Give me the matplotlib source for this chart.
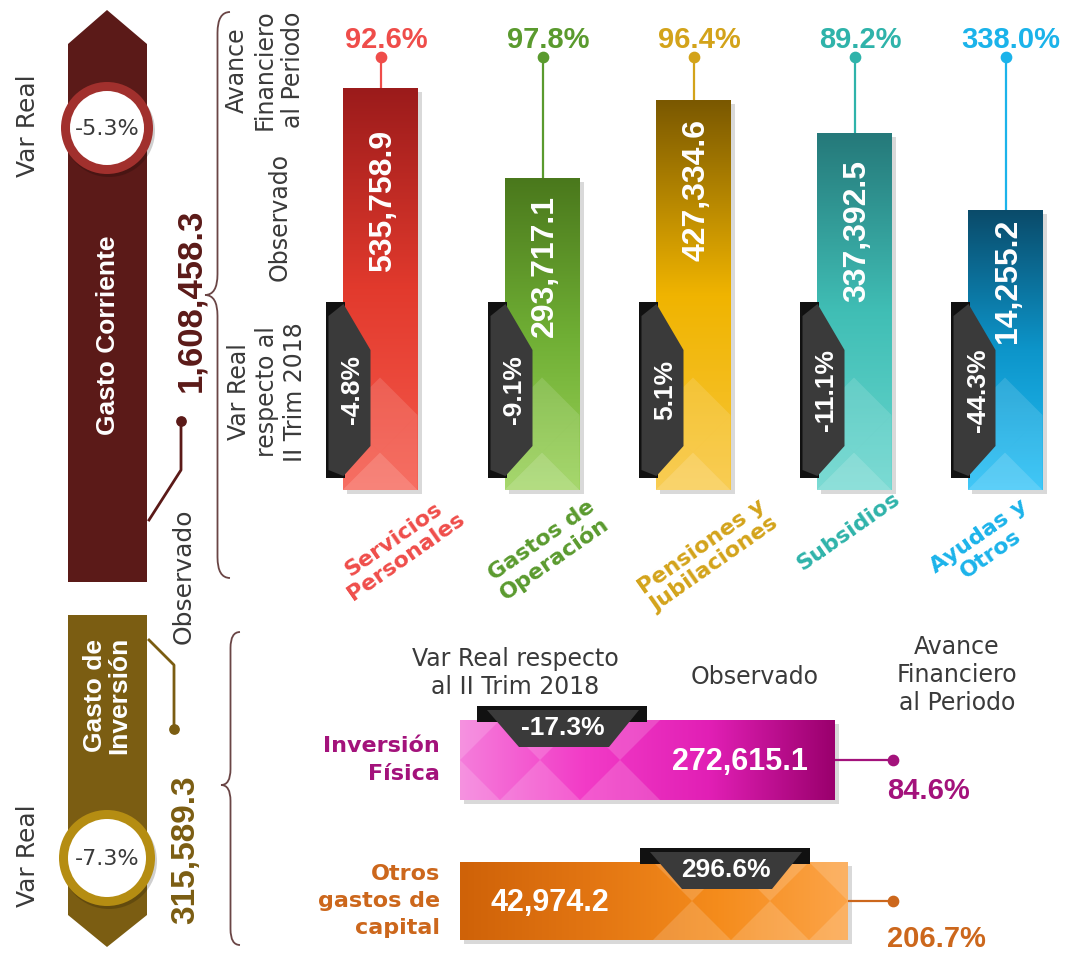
import numpy as np
import matplotlib
matplotlib.use('Agg')
import matplotlib.pyplot as plt
from matplotlib.patches import Polygon, Circle, Rectangle, PathPatch
from matplotlib.path import Path
from matplotlib.colors import LinearSegmentedColormap

# -- data ---------------------------------------------------------------
cur_categories = ['Servicios\nPersonales', 'Gastos de\nOperación',
                  'Pensiones y\nJubilaciones', 'Subsidios', 'Ayudas y\nOtros']
cur_observado = [535758.9, 293717.1, 427334.6, 337392.5, 14255.2]
cur_var_real = [-4.8, -9.1, 5.1, -11.1, -44.3]
cur_avance = [92.6, 97.8, 96.4, 89.2, 338.0]

inv_categories = ['Inversión\nFísica', 'Otros\ngastos de\ncapital']
inv_observado = [272615.1, 42974.2]
inv_var_real = [-17.3, 296.6]
inv_avance = [84.6, 206.7]

total_corriente = 1608458.3
total_inversion = 315589.3
var_corriente = -5.3
var_inversion = -7.3

# -- layout (pixel canvas, design lengths are not to scale) ---------------
W, H = 1065, 956
bar_x = [380, 542, 693, 854, 1005]
bar_len = [402, 312, 390, 357, 280]
val_cy = [201, 266, 190, 231, 281]
BAR_BASE = 490
BAR_W = 75
inv_y = [760, 901]
inv_len = [375, 388]
inv_h = [80, 78]
INV_LEFT = 460

# -- colours -------------------------------------------------------------
cur_text = ['#ef4d4a', '#5a9a2e', '#d3a31a', '#2fb3aa', '#1bb3ea']
cur_grad = [['#f65a4c', '#e23a2d', '#9b1b1b'],
            ['#9ad258', '#6fae34', '#4a781c'],
            ['#f8c63a', '#f0b400', '#7a5800'],
            ['#68d6ce', '#40beb5', '#25797a'],
            ['#25c0f7', '#0d95ca', '#0a4b6a']]
inv_text = ['#a3127b', '#cc671c']
inv_grad = [['#f57ddb', '#f23bc7', '#e11fb5', '#9a006d'],
            ['#cf6208', '#e27512', '#f58c1c', '#fca448']]
MAROON = '#5b1a18'
MAROON_RING = '#a1302d'
OLIVE = '#7b5d12'
OLIVE_RING = '#b58d12'
TAG_DARK = '#3a3a3a'
TXT = '#3a3a3a'
BOLD = 'Liberation Sans'
REG = 'DejaVu Sans'


def grad_fill(ax, patch, colors, extent, horizontal=False, z=3):
    cmap = LinearSegmentedColormap.from_list('g', colors)
    arr = np.linspace(0, 1, 256)
    arr = arr.reshape(1, -1) if horizontal else arr.reshape(-1, 1)
    im = ax.imshow(arr, cmap=cmap, extent=extent, origin='lower',
                   aspect='auto', zorder=z, interpolation='bicubic')
    im.set_clip_path(patch)


def brace(ax, x_tip, x_end, y0, y1, ym, color):
    xm = (x_tip + x_end) / 2
    r = (x_end - x_tip) / 1.2
    verts = [(x_end, y0), (xm, y0), (xm, y0 + r), (xm, ym - r),
             (xm, ym), (x_tip, ym), (xm, ym), (xm, ym + r),
             (xm, y1 - r), (xm, y1), (x_end, y1)]
    codes = [Path.MOVETO, Path.CURVE3, Path.CURVE3, Path.LINETO,
             Path.CURVE3, Path.CURVE3, Path.CURVE3, Path.CURVE3,
             Path.LINETO, Path.CURVE3, Path.CURVE3]
    ax.add_patch(PathPatch(Path(verts, codes), fc='none', ec=color, lw=1.3))


def pattern(ax, clip, pts_list, color, alpha):
    for pts in pts_list:
        p = Polygon(pts, closed=True, fc=color, ec='none', alpha=alpha, zorder=4)
        ax.add_patch(p)
        p.set_clip_path(clip)


fig = plt.figure(figsize=(W / 100, H / 100), dpi=100, facecolor='white')
ax = fig.add_axes([0, 0, 1, 1])
ax.set_xlim(0, W)
ax.set_ylim(H, 0)
ax.axis('off')

# ---- left banners -------------------------------------------------------
ax.add_patch(Polygon([(68, 44), (107, 10), (147, 44), (147, 582), (68, 582)],
                     fc=MAROON, ec='none', zorder=2))
ax.add_patch(Circle((109, 131), 46, fc='#00000030', ec='none', zorder=2.5))
ax.add_patch(Circle((107, 128), 46, fc=MAROON_RING, ec='none', zorder=3))
ax.add_patch(Circle((107, 128), 37, fc='white', ec='none', zorder=3.5))
ax.text(107, 129, f'{var_corriente:.1f}%', family=REG, fontsize=16, color=TXT,
        ha='center', va='center', zorder=4)
ax.text(28, 126, 'Var Real', family=REG, fontsize=18, color=TXT, rotation=90,
        ha='center', va='center')
ax.text(108, 335, 'Gasto Corriente', family=BOLD, fontweight='bold', fontsize=19,
        color='white', rotation=90, ha='center', va='center', zorder=4)
ax.text(191, 300, f'{total_corriente:,.1f}', family=BOLD, fontweight='bold',
        fontsize=25, color=MAROON, rotation=90, ha='center', va='center')
ax.plot([181, 181, 149], [421, 470, 520], color=MAROON, lw=2, zorder=3)
ax.scatter([181], [421], s=45, color=MAROON, zorder=4)
ax.text(184, 576, 'Observado', family=REG, fontsize=18, color=TXT, rotation=90,
        ha='center', va='center')

ax.add_patch(Polygon([(68, 615), (147, 615), (147, 915), (107, 947), (68, 915)],
                     fc=OLIVE, ec='none', zorder=2))
ax.add_patch(Circle((109, 861), 48, fc='#00000030', ec='none', zorder=2.5))
ax.add_patch(Circle((107, 858), 48, fc=OLIVE_RING, ec='none', zorder=3))
ax.add_patch(Circle((107, 858), 39, fc='white', ec='none', zorder=3.5))
ax.text(107, 859, f'{var_inversion:.1f}%', family=REG, fontsize=16, color=TXT,
        ha='center', va='center', zorder=4)
ax.text(28, 856, 'Var Real', family=REG, fontsize=18, color=TXT, rotation=90,
        ha='center', va='center')
ax.text(107, 695, 'Gasto de\nInversión', family=BOLD, fontweight='bold',
        fontsize=19, color='white', rotation=90, ha='center', va='center',
        linespacing=1.0, zorder=4)
ax.text(186, 850, f'{total_inversion:,.1f}', family=BOLD, fontweight='bold',
        fontsize=24, color=OLIVE, rotation=90, ha='center', va='center')
ax.plot([149, 174, 174], [640, 665, 729], color=OLIVE, lw=2, zorder=3)
ax.scatter([174], [729], s=45, color=OLIVE, zorder=4)

brace(ax, 205, 230, 12, 578, 295, '#6a4545')
brace(ax, 221, 240, 632, 945, 785, '#6a4545')

# ---- column headers (top) -----------------------------------------------
ax.text(265, 70, 'Avance\nFinanciero\nal Periodo', family=REG, fontsize=17,
        color=TXT, rotation=90, ha='center', va='center', linespacing=1.2)
ax.text(280, 217, 'Observado', family=REG, fontsize=17, color=TXT,
        rotation=90, ha='center', va='center')
ax.text(267, 392, 'Var Real\nrespecto al\nII Trim 2018', family=REG,
        fontsize=17, color=TXT, rotation=90, ha='center', va='center',
        linespacing=1.2)

# ---- top bars ------------------------------------------------------------
tops = [BAR_BASE - h for h in bar_len]
ax.bar([x + 4 for x in bar_x], bar_len, bottom=[t + 4 for t in tops],
       width=BAR_W, color='black', alpha=0.15, zorder=2)
bars = ax.bar(bar_x, bar_len, bottom=tops, width=BAR_W, zorder=3,
              color=[g[1] for g in cur_grad])
label_pos = [(400, 548), (548, 550), (708, 556), (848, 531), (985, 545)]
for i, b in enumerate(bars):
    x0, x1 = bar_x[i] - BAR_W / 2, bar_x[i] + BAR_W / 2
    xc, top, yb = bar_x[i], tops[i], BAR_BASE
    grad_fill(ax, b, cur_grad[i], (x0, x1, yb, top), z=3.1)
    hw = BAR_W / 2
    pattern(ax, b, [[(x0, yb), (xc, yb - hw), (x1, yb)],
                    [(x0, yb - hw * 2), (xc, yb - hw), (x0, yb)],
                    [(x1, yb - hw * 2), (xc, yb - hw), (x1, yb)],
                    [(xc, yb - hw), (x1, yb - 2 * hw), (xc, yb - 3 * hw),
                     (x0, yb - 2 * hw)]],
            'white', 0.13)
    pattern(ax, b, [[(x0, yb), (xc, yb - hw), (x1, yb)]], 'white', 0.15)

    # avance marker
    ax.plot([xc + 1, xc + 1], [57, top], color=cur_text[i], lw=1.6, zorder=2)
    ax.scatter([xc + 1], [57], s=55, color=cur_text[i], zorder=3)
    ax.text(xc + 6, 40, f'{cur_avance[i]:.1f}%', family=BOLD, fontweight='bold',
            fontsize=21, color=cur_text[i], ha='center', va='center')

    # observado
    ax.text(xc + 3, val_cy[i], f'{cur_observado[i]:,.1f}', family=BOLD,
            fontweight='bold', fontsize=23, color='white', rotation=90,
            ha='center', va='center', zorder=6)

    # var real tag
    ax.add_patch(Rectangle((x0 - 17, 302), 19, 176, fc='#111111', ec='none',
                           zorder=5))
    ax.add_patch(Polygon([(x0 - 14, 316), (x0 + 1, 304), (x0 + 28, 350),
                          (x0 + 28, 446), (x0 + 1, 476), (x0 - 14, 470)],
                         fc=TAG_DARK, ec='none', zorder=5.5))
    ax.text(x0 + 10, 390, f'{cur_var_real[i]:.1f}%', family=BOLD,
            fontweight='bold', fontsize=19, color='white', rotation=90,
            ha='center', va='center', zorder=6)

    ax.text(label_pos[i][0], label_pos[i][1], cur_categories[i], family=REG,
            fontweight='bold', fontsize=16, color=cur_text[i], rotation=35,
            rotation_mode='anchor', ha='center', va='center', linespacing=1.1)

# ---- bottom headers -------------------------------------------------------
ax.text(515, 673, 'Var Real respecto\nal II Trim 2018', family=REG, fontsize=17,
        color=TXT, ha='center', va='center', linespacing=1.2)
ax.text(755, 677, 'Observado', family=REG, fontsize=17, color=TXT,
        ha='center', va='center')
ax.text(957, 675, 'Avance\nFinanciero\nal Periodo', family=REG, fontsize=17,
        color=TXT, ha='center', va='center', linespacing=1.2)

# ---- bottom bars ------------------------------------------------------------
ax.barh([y + 4 for y in inv_y], inv_len, left=INV_LEFT + 4, height=inv_h,
        color='black', alpha=0.15, zorder=2)
hbars = ax.barh(inv_y, inv_len, left=INV_LEFT, height=inv_h, zorder=3,
                color=[g[1] for g in inv_grad])
tag_x = [477, 640]
val_x = [740, 550]
for i, b in enumerate(hbars):
    y0, y1 = inv_y[i] - inv_h[i] / 2, inv_y[i] + inv_h[i] / 2
    x0, x1 = INV_LEFT, INV_LEFT + inv_len[i]
    grad_fill(ax, b, inv_grad[i], (x0, x1, y0, y1), horizontal=True, z=3.1)
    hh = inv_h[i] / 2
    if i == 0:
        px = [x0, x0 + 2 * hh, x0 + 4 * hh]
    else:
        px = [x1 - 4 * hh, x1 - 2 * hh, x1]
    pts = []
    for cx in px:
        pts.append([(cx - hh, y1), (cx, inv_y[i]), (cx + hh, y1)])
        pts.append([(cx - hh, y0), (cx, inv_y[i]), (cx + hh, y0)])
    pattern(ax, b, pts, 'white', 0.16)

    tx = tag_x[i]
    ax.add_patch(Rectangle((tx, y0 - 14), 170, 16, fc='#111111', ec='none',
                           zorder=5))
    ax.add_patch(Polygon([(tx + 10, y0 - 10), (tx + 162, y0 - 10),
                          (tx + 132, y0 + 27), (tx + 42, y0 + 27)],
                         fc=TAG_DARK, ec='none', zorder=5.5))
    ax.text(tx + 86, y0 + 8, f'{inv_var_real[i]:.1f}%', family=BOLD,
            fontweight='bold', fontsize=19, color='white', ha='center',
            va='center', zorder=6)
    ax.text(val_x[i], inv_y[i] + 2, f'{inv_observado[i]:,.1f}', family=BOLD,
            fontweight='bold', fontsize=22, color='white', ha='center',
            va='center', zorder=6)

    ax.plot([x1, 893], [inv_y[i], inv_y[i]], color=inv_text[i], lw=1.6, zorder=2)
    ax.scatter([893], [inv_y[i]], s=55, color=inv_text[i], zorder=3)
    ax.text(928 + 8 * i, inv_y[i] + 31 + 7 * i, f'{inv_avance[i]:.1f}%',
            family=BOLD, fontweight='bold', fontsize=21, color=inv_text[i],
            ha='center', va='center')
    ax.text(440, inv_y[i], inv_categories[i], family=REG, fontweight='bold',
            fontsize=16, color=inv_text[i], ha='right', va='center',
            linespacing=1.45)

ax.set_xlim(0, W)
ax.set_ylim(H, 0)
fig.savefig('out.png', dpi=100, facecolor='white')
